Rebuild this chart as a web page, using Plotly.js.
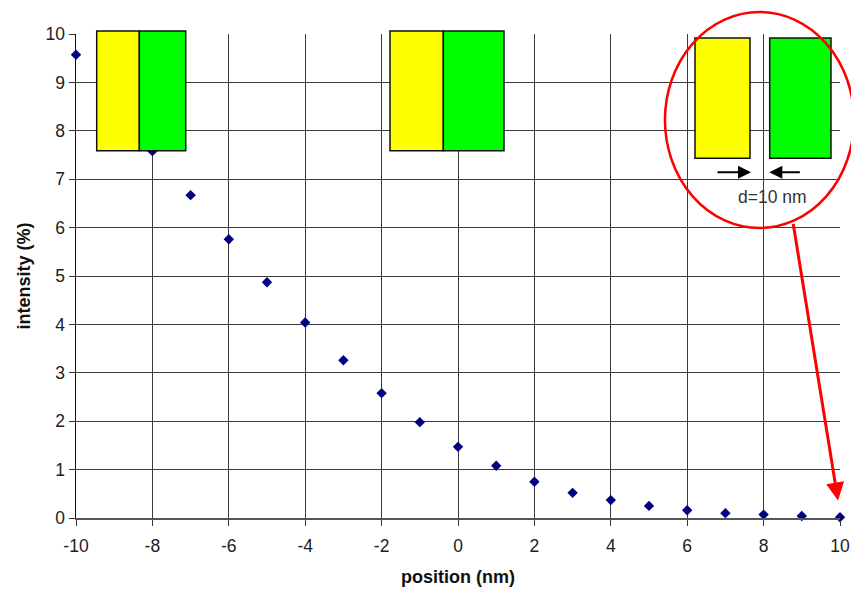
<!DOCTYPE html>
<html>
<head>
<meta charset="utf-8">
<script src="https://cdn.plot.ly/plotly-3.0.1.min.js"></script>
<style>html,body{margin:0;padding:0;background:#fff;}#chart{width:851px;height:590px;}</style>
</head>
<body>
<div id="chart"></div>
<script>
// Data
const positions = [-10, -9, -8, -7, -6, -5, -4, -3, -2, -1, 0, 1, 2, 3, 4, 5, 6, 7, 8, 9, 10];
const intensity = [9.57, 8.57, 7.58, 6.67, 5.76, 4.87, 4.04, 3.26, 2.58, 1.98, 1.47, 1.08, 0.75, 0.52, 0.37, 0.25, 0.16, 0.10, 0.07, 0.04, 0.015];
const xTickVals = [-10, -8, -6, -4, -2, 0, 2, 4, 6, 8, 10];
const yTickVals = [0, 1, 2, 3, 4, 5, 6, 7, 8, 9, 10];
const xTitle = 'position (nm)';
const yTitle = 'intensity (%)';
const gapLabel = 'd=10 nm';

const FONT = 'Liberation Sans, Arial, Helvetica, sans-serif';
const GRID = '#3a3a3a';

const trace = {
  x: positions,
  y: intensity,
  type: 'scatter',
  mode: 'markers',
  marker: {symbol: 'diamond', size: 8, color: '#000080', line: {width: 0}},
  cliponaxis: false,
  hoverinfo: 'x+y'
};

function rect(x0, x1, y0, y1, fill) {
  return {type: 'rect', xref: 'paper', yref: 'paper', x0: x0, x1: x1, y0: y0, y1: y1,
          fillcolor: fill, line: {color: '#111', width: 1.5}, layer: 'above'};
}

const shapes = [
  // left pair (touching)
  rect(0.0271, 0.0829, 0.7589, 1.0062, '#ffff00'),
  rect(0.0829, 0.1436, 0.7589, 1.0062, '#00ff00'),
  // middle pair (touching)
  rect(0.4110, 0.4808, 0.7589, 1.0062, '#ffff00'),
  rect(0.4808, 0.5602, 0.7589, 1.0062, '#00ff00'),
  // right pair (separated)
  rect(0.8102, 0.8822, 0.7432, 0.9917, '#ffff00'),
  rect(0.9080, 0.9882, 0.7432, 0.9917, '#00ff00'),
  // red circle
  {type: 'circle', xref: 'paper', yref: 'paper', x0: 0.7709, x1: 1.0183, y0: 0.5992, y1: 1.0455,
   line: {color: '#ff0000', width: 2.5}, fillcolor: 'rgba(0,0,0,0)', layer: 'above'}
];

const annotations = [
  {xref: 'paper', yref: 'paper', x: 0.8835, y: 0.7143, ax: -35, ay: 0, text: '', showarrow: true,
   arrowhead: 2, arrowsize: 1.3, arrowwidth: 2, arrowcolor: '#000', standoff: 0},
  {xref: 'paper', yref: 'paper', x: 0.9075, y: 0.7143, ax: 32, ay: 0, text: '', showarrow: true,
   arrowhead: 2, arrowsize: 1.3, arrowwidth: 2, arrowcolor: '#000', standoff: 0},
  {xref: 'paper', yref: 'paper', x: 0.9123, y: 0.6632, text: gapLabel, showarrow: false,
   xanchor: 'center', yanchor: 'middle', font: {family: FONT, size: 17.5, color: '#333'}},
  {xref: 'paper', yref: 'paper', x: 0.9974, y: 0.0362, ax: -45, ay: -278, text: '', showarrow: true,
   arrowhead: 2, arrowsize: 1.2, arrowwidth: 3, arrowcolor: '#ff0000', standoff: 0}
];

const layout = {
  width: 851, height: 590,
  margin: {l: 76, r: 11, t: 34, b: 72, pad: 0},
  paper_bgcolor: '#ffffff',
  plot_bgcolor: '#ffffff',
  showlegend: false,
  font: {family: FONT, size: 17, color: '#222'},
  xaxis: {
    range: [-10, 10], tickvals: xTickVals, ticktext: xTickVals.map(String),
    showgrid: true, gridcolor: GRID, gridwidth: 1,
    zeroline: false, showline: true, linecolor: '#555', linewidth: 1.5, mirror: false,
    ticks: 'outside', ticklen: 6, tickcolor: '#333', tickwidth: 1,
    ticklabelstandoff: 5,
    tickfont: {family: FONT, size: 17.5, color: '#222'},
    title: {text: xTitle, font: {family: FONT, size: 18, color: '#111', weight: 'bold'}, standoff: 16},
    fixedrange: true
  },
  yaxis: {
    range: [0, 10], tickvals: yTickVals, ticktext: yTickVals.map(String),
    showgrid: true, gridcolor: GRID, gridwidth: 1,
    zeroline: false, showline: true, linecolor: '#111', linewidth: 1.5, mirror: false,
    ticks: 'outside', ticklen: 6, tickcolor: '#333', tickwidth: 1,
    tickfont: {family: FONT, size: 17.5, color: '#222'},
    title: {text: yTitle, font: {family: FONT, size: 18, color: '#111', weight: 'bold'}, standoff: 10},
    fixedrange: true
  },
  shapes: shapes,
  annotations: annotations
};

Plotly.newPlot('chart', [trace], layout, {displayModeBar: false, staticPlot: true});
</script>
</body>
</html>
